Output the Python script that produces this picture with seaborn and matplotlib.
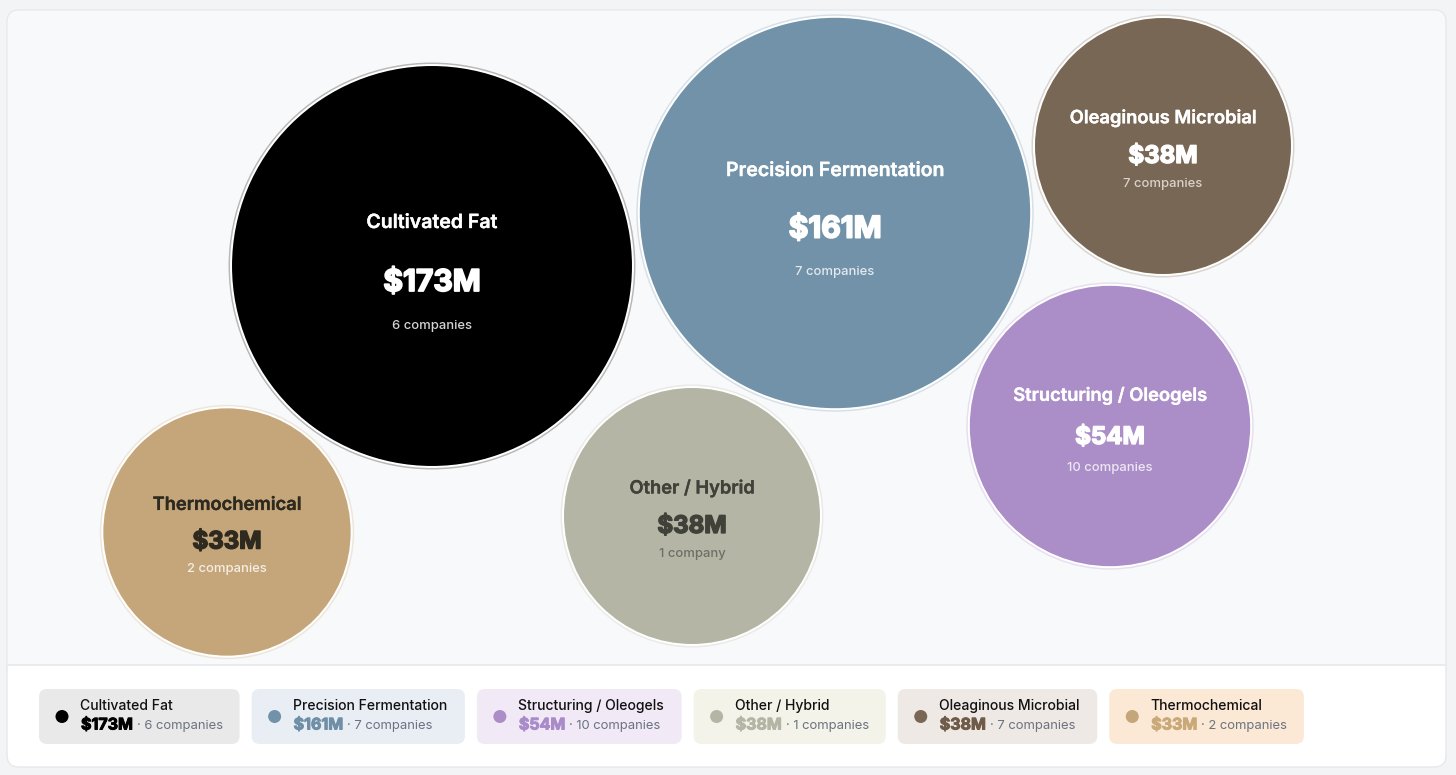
import numpy as np
import pandas as pd
import matplotlib.pyplot as plt
import matplotlib.patheffects as pe
import seaborn as sns
from matplotlib.patches import FancyBboxPatch
from matplotlib.colors import to_rgb

# ----------------------------------------
# Datos: financiación por categoría
categories = ["Cultivated Fat", "Precision Fermentation", "Oleaginous Microbial",
              "Structuring / Oleogels", "Other / Hybrid", "Thermochemical"]
funding_m = [173, 161, 38, 54, 38, 33]
companies = [6, 7, 7, 10, 1, 2]
company_labels = ["6 companies", "7 companies", "7 companies",
                  "10 companies", "1 company", "2 companies"]

# posiciones del layout de burbujas (espacio de pixeles del lienzo)
layout_x = [432, 835, 1163, 1110, 692, 227]
layout_y = [266, 213, 146, 426, 516, 532]

# orden de la leyenda (por financiación)
legend_order = ["Cultivated Fat", "Precision Fermentation", "Structuring / Oleogels",
                "Other / Hybrid", "Oleaginous Microbial", "Thermochemical"]

# estilos
fill_colors = {
    "Cultivated Fat": "#000000",
    "Precision Fermentation": "#7192a8",
    "Oleaginous Microbial": "#786754",
    "Structuring / Oleogels": "#ab8ec7",
    "Other / Hybrid": "#b5b5a6",
    "Thermochemical": "#c4a67a",
}
text_colors = {
    "Cultivated Fat": ("#ffffff", "#ffffff", "#d4d4d4"),
    "Precision Fermentation": ("#ffffff", "#ffffff", "#e3e9ee"),
    "Oleaginous Microbial": ("#ffffff", "#ffffff", "#d9d2ca"),
    "Structuring / Oleogels": ("#ffffff", "#ffffff", "#ede6f4"),
    "Other / Hybrid": ("#40423a", "#40423a", "#6e6e64"),
    "Thermochemical": ("#2f2a20", "#2f2a20", "#f4eee4"),
}
legend_bg = {
    "Cultivated Fat": "#e9e9e9",
    "Precision Fermentation": "#e9eef5",
    "Structuring / Oleogels": "#f1eaf6",
    "Other / Hybrid": "#f3f3ea",
    "Oleaginous Microbial": "#efe9e6",
    "Thermochemical": "#fbe9d6",
}
legend_value_colors = {
    "Cultivated Fat": "#000000",
    "Precision Fermentation": "#6f8fa6",
    "Structuring / Oleogels": "#a98bc9",
    "Other / Hybrid": "#b5b5a5",
    "Oleaginous Microbial": "#6e5b48",
    "Thermochemical": "#c9a978",
}

W, H, DPI = 1456, 775, 100
PX = 72 / DPI  # puntos por pixel

sns.set_theme(style="white")
plt.rcParams["font.family"] = ["Inter", "DejaVu Sans"]

df = pd.DataFrame({"name": categories, "value": funding_m, "n": companies,
                   "label": company_labels, "x": layout_x, "y": layout_y})
# escala de radio (sqrt con desplazamiento)
df["r"] = 64.5 + 10.3 * np.sqrt(df["value"])


def lighten(c, a):
    r, g, b = to_rgb(c)
    return (1 - a * (1 - r), 1 - a * (1 - g), 1 - a * (1 - b))


def heavy(color, lw):
    # engrosar el texto para imitar Inter ExtraBold
    return [pe.withStroke(linewidth=lw, foreground=color)]


fig = plt.figure(figsize=(W / DPI, H / DPI), dpi=DPI)
fig.patch.set_facecolor("#f3f4f6")
ax = fig.add_axes([0, 0, 1, 1])
ax.set_xlim(0, W)
ax.set_ylim(H, 0)
ax.axis("off")

# tarjeta
ax.add_patch(FancyBboxPatch((7, 10), 1439, 757, boxstyle="round,pad=0,rounding_size=12",
                            fc="#ffffff", ec="#e6e8ec", lw=1, zorder=0))
ax.add_patch(FancyBboxPatch((8, 11), 1437, 653, boxstyle="round,pad=0,rounding_size=11",
                            fc="#f8f9fb", ec="none", zorder=0))
ax.add_patch(plt.Rectangle((8, 640), 1437, 24, fc="#f8f9fb", ec="none", zorder=0))
ax.plot([8, 1445], [664.5, 664.5], color="#e5e7eb", lw=1.2, zorder=1)


def bubble_layer(diam_px, palette, z):
    d = df.copy()
    d["area"] = (diam_px * PX) ** 2
    lo, hi = d["area"].min(), d["area"].max()
    sns.scatterplot(data=d, x="x", y="y", hue="name", palette=palette,
                    size="area", sizes=(lo, hi), size_norm=(lo, hi),
                    linewidth=0, legend=False, ax=ax, zorder=z)


# anillo exterior, borde blanco, relleno
ring = {k: lighten(v, 0.28) for k, v in fill_colors.items()}
white = {k: "#ffffff" for k in fill_colors}
bubble_layer(2 * df["r"] + 7, ring, 2)
bubble_layer(2 * df["r"] + 4, white, 3)
bubble_layer(2 * df["r"], fill_colors, 4)

# textos dentro de burbujas
for _, row in df.iterrows():
    big = row["r"] > 180
    tc, vc, cc = text_colors[row["name"]]
    ax.text(row["x"], row["y"] - 0.215 * row["r"], row["name"], ha="center", va="center",
            fontsize=(19.5 if big else 18.3) * PX, fontweight="semibold", color=tc,
            zorder=5, path_effects=heavy(tc, 0.25))
    ax.text(row["x"], row["y"] + 0.085 * row["r"], f"${row['value']}M", ha="center",
            va="center", fontsize=(30 if big else 24) * PX, fontweight="bold",
            color=vc, zorder=5, path_effects=heavy(vc, 1.3 if big else 1.1))
    ax.text(row["x"], row["y"] + 0.30 * row["r"], row["label"], ha="center", va="center",
            fontsize=13 * PX, fontweight="medium", color=cc, zorder=5)

# leyenda
fig.canvas.draw()
renderer = fig.canvas.get_renderer()
lookup = df.set_index("name")
x0, top, bh = 39, 689, 55
dots_x, dots_y, dots_c = [], [], []
for name in legend_order:
    row = lookup.loc[name]
    t1 = ax.text(x0 + 41, top + 17, name, ha="left", va="center", fontsize=14 * PX,
                 fontweight="medium", color="#111111", zorder=6)
    t2 = ax.text(x0 + 42, top + 36, f"${row['value']}M", ha="left", va="center",
                 fontsize=16 * PX, fontweight="bold",
                 color=legend_value_colors[name], zorder=6,
                 path_effects=heavy(legend_value_colors[name], 0.7))
    w2 = t2.get_window_extent(renderer).width
    t3 = ax.text(x0 + 42 + w2 + 4, top + 37, f"· {row['n']} companies", ha="left",
                 va="center", fontsize=13 * PX, color="#6b7280", zorder=6)
    w1 = t1.get_window_extent(renderer).width
    w3 = t3.get_window_extent(renderer).width
    bw = 41 + max(w1, w2 + 4 + w3) + 18
    ax.add_patch(FancyBboxPatch((x0, top), bw, bh, boxstyle="round,pad=0,rounding_size=8",
                                fc=legend_bg[name], ec="none", zorder=5))
    dots_x.append(x0 + 23)
    dots_y.append(top + bh / 2)
    dots_c.append(name)
    x0 += bw + 12

leg = pd.DataFrame({"x": dots_x, "y": dots_y, "name": dots_c})
sns.scatterplot(data=leg, x="x", y="y", hue="name", palette=fill_colors,
                s=(13 * PX) ** 2, linewidth=0, legend=False, ax=ax, zorder=7)

ax.set_xlim(0, W)
ax.set_ylim(H, 0)
fig.savefig("out.png", dpi=DPI, facecolor=fig.get_facecolor())
